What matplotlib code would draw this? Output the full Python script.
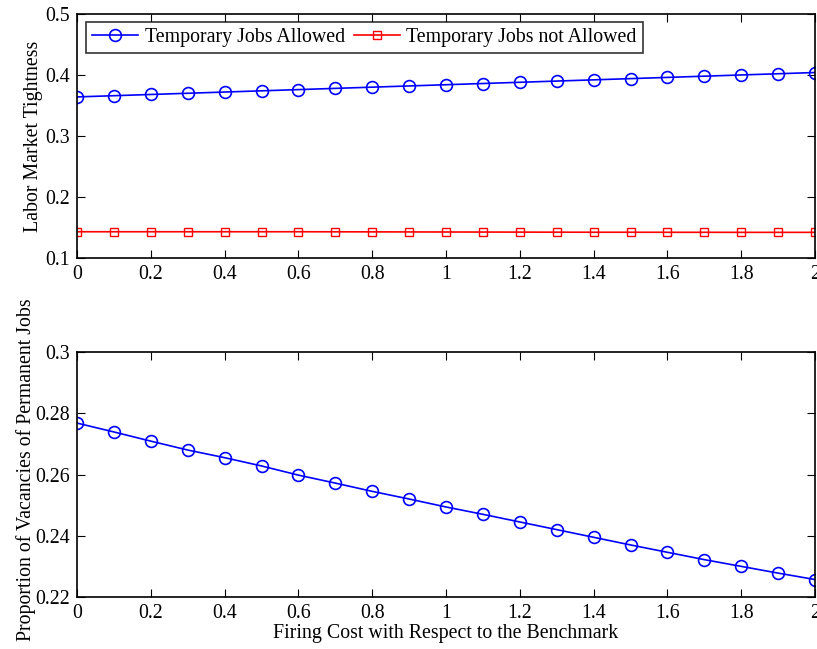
import numpy as np
import matplotlib.pyplot as plt

plt.rcParams['font.family'] = ['Liberation Serif', 'DejaVu Serif']
plt.rcParams['mathtext.fontset'] = 'stix'

# firing cost grid
firing_cost = [0, 0.1, 0.2, 0.3, 0.4, 0.5, 0.6, 0.7, 0.8, 0.9, 1.0,
               1.1, 1.2, 1.3, 1.4, 1.5, 1.6, 1.7, 1.8, 1.9, 2.0]

# labor market tightness
tight_temp = [0.364, 0.366, 0.368, 0.370, 0.372, 0.374, 0.376, 0.378, 0.380, 0.382, 0.384,
              0.386, 0.388, 0.390, 0.392, 0.394, 0.396, 0.398, 0.400, 0.402, 0.404]
tight_notemp = [0.143, 0.143, 0.143, 0.143, 0.143, 0.143, 0.143, 0.1429, 0.1428, 0.1427, 0.1426,
                0.1425, 0.1424, 0.1423, 0.1422, 0.1422, 0.1421, 0.1421, 0.1420, 0.1420, 0.1420]

# proportion of permanent vacancies
perm_share = [0.2768, 0.2739, 0.2709, 0.2680, 0.2655, 0.2628, 0.2598, 0.2572, 0.2545, 0.2520, 0.2494,
              0.2470, 0.2445, 0.2420, 0.2395, 0.2370, 0.2346, 0.2322, 0.2300, 0.2278, 0.2257]

fs = 14.3

fig = plt.figure(figsize=(8.17, 6.49), dpi=100)
ax1 = fig.add_axes([0.0942, 0.6025, 0.9035, 0.376])
ax2 = fig.add_axes([0.0942, 0.0801, 0.9035, 0.3775])

#######################
# top panel
ax1.plot(firing_cost, tight_temp, '-o', color='blue', lw=1.2, ms=8.5,
         mfc='none', mew=1.2, label='Temporary Jobs Allowed')
ax1.plot(firing_cost, tight_notemp, '-s', color='red', lw=1.2, ms=6,
         mfc='none', mew=1.0, label='Temporary Jobs not Allowed')
ax1.set_xlim(0, 2)
ax1.set_ylim(0.1, 0.5)
ax1.set_xticks(np.arange(0, 2.01, 0.2))
ax1.set_xticklabels(['0', '0.2', '0.4', '0.6', '0.8', '1', '1.2', '1.4', '1.6', '1.8', '2'])
ax1.set_yticks([0.1, 0.2, 0.3, 0.4, 0.5])
ax1.set_yticklabels(['0.1', '0.2', '0.3', '0.4', '0.5'])
ax1.set_ylabel('Labor Market Tightness', fontsize=fs)
ax1.yaxis.set_label_coords(-0.046, 0.5)
leg = ax1.legend(loc='upper left', ncol=2, fontsize=fs, frameon=True, fancybox=False,
                 edgecolor='black', borderpad=0.3, handlelength=2.3, columnspacing=0.45,
                 handletextpad=0.35, bbox_to_anchor=(0.0125, 0.967), borderaxespad=0)
leg.get_frame().set_linewidth(1.2)

#######################
# bottom panel
ax2.plot(firing_cost, perm_share, '-o', color='blue', lw=1.2, ms=8.5,
         mfc='none', mew=1.2)
ax2.set_xlim(0, 2)
ax2.set_ylim(0.22, 0.3)
ax2.set_xticks(np.arange(0, 2.01, 0.2))
ax2.set_xticklabels(['0', '0.2', '0.4', '0.6', '0.8', '1', '1.2', '1.4', '1.6', '1.8', '2'])
ax2.set_yticks([0.22, 0.24, 0.26, 0.28, 0.3])
ax2.set_yticklabels(['0.22', '0.24', '0.26', '0.28', '0.3'])
ax2.set_ylabel('Proportion of Vacancies of Permanent Jobs', fontsize=fs)
ax2.yaxis.set_label_coords(-0.056, 0.52)
ax2.set_xlabel('Firing Cost with Respect to the Benchmark', fontsize=fs, labelpad=1)

for ax in (ax1, ax2):
    ax.tick_params(direction='in', top=True, right=True, labelsize=fs, length=6, width=0.8, pad=5)
    for s in ax.spines.values():
        s.set_linewidth(1.2)

fig.savefig('out.png', dpi=100)
